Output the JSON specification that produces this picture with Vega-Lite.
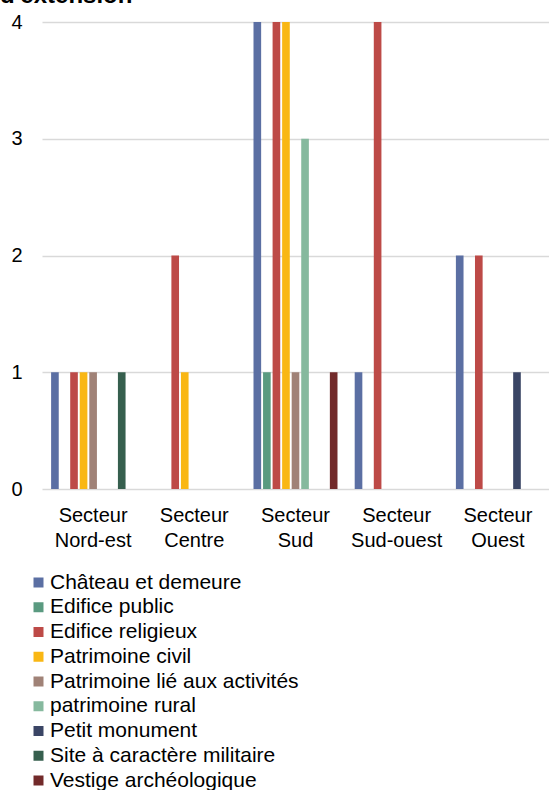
{
  "$schema": "https://vega.github.io/schema/vega-lite/v6.json",
  "autosize": {"type": "none"},
  "padding": {"left": 42, "top": 22, "right": 0, "bottom": 301},
  "width": 507,
  "height": 467,
  "background": "white",
  "title": {"text": "d'extension", "anchor": "start", "frame": "group", "fontSize": 24, "fontWeight": "bold", "font": "Liberation Sans", "color": "#000000", "dx": -42, "dy": 15, "offset": 0, "baseline": "alphabetic"},
  "config": {"view": {"stroke": null}, "font": "Liberation Sans"},
  "data": {"values": [
    {"secteur": "Secteur Nord-est", "type": "Château et demeure", "n": 1},
    {"secteur": "Secteur Nord-est", "type": "Edifice religieux", "n": 1},
    {"secteur": "Secteur Nord-est", "type": "Patrimoine civil", "n": 1},
    {"secteur": "Secteur Nord-est", "type": "Patrimoine lié aux activités", "n": 1},
    {"secteur": "Secteur Nord-est", "type": "Site à caractère militaire", "n": 1},
    {"secteur": "Secteur Centre", "type": "Edifice religieux", "n": 2},
    {"secteur": "Secteur Centre", "type": "Patrimoine civil", "n": 1},
    {"secteur": "Secteur Sud", "type": "Château et demeure", "n": 4},
    {"secteur": "Secteur Sud", "type": "Edifice public", "n": 1},
    {"secteur": "Secteur Sud", "type": "Edifice religieux", "n": 4},
    {"secteur": "Secteur Sud", "type": "Patrimoine civil", "n": 4},
    {"secteur": "Secteur Sud", "type": "Patrimoine lié aux activités", "n": 1},
    {"secteur": "Secteur Sud", "type": "patrimoine rural", "n": 3},
    {"secteur": "Secteur Sud", "type": "Vestige archéologique", "n": 1},
    {"secteur": "Secteur Sud-ouest", "type": "Château et demeure", "n": 1},
    {"secteur": "Secteur Sud-ouest", "type": "Edifice religieux", "n": 4},
    {"secteur": "Secteur Ouest", "type": "Château et demeure", "n": 2},
    {"secteur": "Secteur Ouest", "type": "Edifice religieux", "n": 2},
    {"secteur": "Secteur Ouest", "type": "Petit monument", "n": 1}
  ]},
  "mark": {"type": "bar"},
  "encoding": {
    "x": {
      "field": "secteur", "type": "nominal",
      "scale": {"domain": ["Secteur Nord-est", "Secteur Centre", "Secteur Sud", "Secteur Sud-ouest", "Secteur Ouest"], "paddingInner": 0.17, "paddingOuter": 0.09},
      "axis": {"title": null, "labelAngle": 0, "labelExpr": "split(datum.value, ' ')", "labelFontSize": 20, "labelColor": "#000000", "labelLineHeight": 25, "labelPadding": 26, "ticks": false, "domain": false, "labelBaseline": "middle"}
    },
    "xOffset": {
      "field": "type", "type": "nominal",
      "scale": {"domain": ["Château et demeure", "Edifice public", "Edifice religieux", "Patrimoine civil", "Patrimoine lié aux activités", "patrimoine rural", "Petit monument", "Site à caractère militaire", "Vestige archéologique"], "paddingInner": 0.2, "paddingOuter": 0}
    },
    "y": {
      "field": "n", "type": "quantitative",
      "scale": {"domain": [0, 4], "nice": false},
      "axis": {"title": null, "values": [0, 1, 2, 3, 4], "format": "d", "labelFontSize": 20, "labelColor": "#000000", "labelPadding": 20, "ticks": false, "domain": false, "gridColor": "#d9d9d9", "gridWidth": 1.5}
    },
    "color": {
      "field": "type", "type": "nominal",
      "scale": {
        "domain": ["Château et demeure", "Edifice public", "Edifice religieux", "Patrimoine civil", "Patrimoine lié aux activités", "patrimoine rural", "Petit monument", "Site à caractère militaire", "Vestige archéologique"],
        "range": ["#5B6FA3", "#5A9A80", "#BD4A47", "#F9B714", "#A08277", "#86B99E", "#3A4565", "#365F4E", "#722A2A"]
      },
      "legend": {"title": null, "orient": "none", "legendX": -14, "legendY": 550, "padding": 0, "symbolType": "square", "symbolSize": 100, "symbolStrokeWidth": 0, "labelFontSize": 21, "labelColor": "#000000", "labelOffset": 1, "rowPadding": 2.75, "labelLimit": 500}
    }
  }
}
